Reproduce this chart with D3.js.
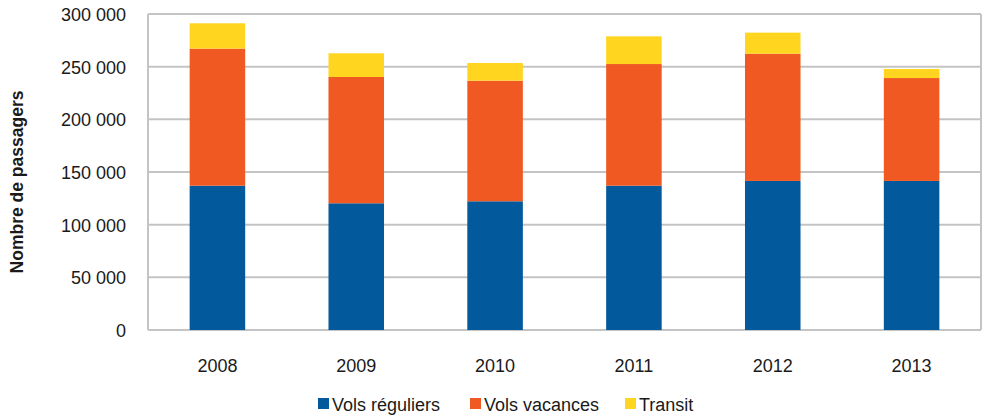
<!DOCTYPE html>
<html>
<head>
<meta charset="utf-8">
<script src="https://cdn.jsdelivr.net/npm/d3@7"></script>
<style>
	html, body { margin: 0; padding: 0; background: #fff; }
	svg text { font-family: "Liberation Sans", Arial, sans-serif; fill: #1a1a1a; }
</style>
</head>
<body>
<div id="chart"></div>
<script>
var years = ["2008", "2009", "2010", "2011", "2012", "2013"];
var volsReguliers = [137000, 120300, 122200, 137000, 141500, 141500];
var volsVacances = [130100, 119900, 114500, 115500, 120800, 97700];
var transit = [24100, 22500, 16800, 26300, 20000, 8600];
var seriesNames = ["Vols réguliers", "Vols vacances", "Transit"];
var yTicks = [0, 50000, 100000, 150000, 200000, 250000, 300000];

(function() {
	'use strict';

	var W = 986, H = 416,
		margin = { top: 14, right: 5, bottom: 86, left: 148 },
		width = W - margin.left - margin.right,
		height = H - margin.top - margin.bottom,
		colors = ["#02599c", "#f05a22", "#ffd520"],
		fmt = function(v) { return d3.format(",")(v).replace(/,/g, " "); };

	var rows = years.map(function(y, i) {
		return { year: y, 0: volsReguliers[i], 1: volsVacances[i], 2: transit[i] };
	});
	var stacked = d3.stack().keys([0, 1, 2])(rows);

	var svg = d3.select("#chart").append("svg")
		.attr("width", W)
		.attr("height", H);

	var g = svg.append("g")
		.attr("transform", "translate(" + margin.left + "," + margin.top + ")");

	var x = d3.scaleBand()
		.domain(years)
		.range([0, width])
		.paddingInner(0.6)
		.paddingOuter(0.3);

	var y = d3.scaleLinear()
		.domain([0, 300000])
		.range([height, 0]);

	// grid
	g.append("g")
		.selectAll("line")
		.data(yTicks)
		.enter().append("line")
		.attr("x1", 0)
		.attr("x2", width)
		.attr("y1", function(d) { return y(d); })
		.attr("y2", function(d) { return y(d); })
		.attr("stroke", "#c4c4c4")
		.attr("stroke-width", 2);

	g.append("line")
		.attr("x1", 0).attr("x2", 0)
		.attr("y1", 0).attr("y2", height)
		.attr("stroke", "#c4c4c4").attr("stroke-width", 2);
	g.append("line")
		.attr("x1", width).attr("x2", width)
		.attr("y1", 0).attr("y2", height)
		.attr("stroke", "#c4c4c4").attr("stroke-width", 2);

	// bars
	g.selectAll(".layer")
		.data(stacked)
		.enter().append("g")
		.attr("fill", function(d, i) { return colors[i]; })
		.selectAll("rect")
		.data(function(d) { return d; })
		.enter().append("rect")
		.attr("x", function(d) { return x(d.data.year); })
		.attr("width", x.bandwidth())
		.attr("y", function(d) { return y(d[1]); })
		.attr("height", function(d) { return y(d[0]) - y(d[1]); });

	// axes
	var yAxis = d3.axisLeft(y)
		.tickValues(yTicks)
		.tickFormat(fmt)
		.tickSize(0)
		.tickPadding(22);

	g.append("g")
		.call(yAxis)
		.call(function(s) { s.select(".domain").remove(); })
		.selectAll("text")
		.attr("font-size", 18)
		.attr("dy", "0.36em");

	var xAxis = d3.axisBottom(x).tickSize(0).tickPadding(29);

	g.append("g")
		.attr("transform", "translate(0," + height + ")")
		.call(xAxis)
		.call(function(s) { s.select(".domain").remove(); })
		.selectAll("text")
		.attr("font-size", 18);

	svg.append("text")
		.attr("transform", "translate(23,182) rotate(-90)")
		.attr("text-anchor", "middle")
		.attr("font-size", 17.5)
		.attr("font-weight", "bold")
		.text("Nombre de passagers");

	// legend
	var legendX = [318, 470, 625];
	var legend = svg.append("g")
		.selectAll("g")
		.data(seriesNames)
		.enter().append("g")
		.attr("transform", function(d, i) { return "translate(" + legendX[i] + ",398)"; });

	legend.append("rect")
		.attr("width", 11)
		.attr("height", 11)
		.attr("fill", function(d, i) { return colors[i]; });

	legend.append("text")
		.attr("x", 14)
		.attr("y", 12.5)
		.attr("font-size", 18)
		.text(function(d) { return d; });
})();
</script>
</body>
</html>
